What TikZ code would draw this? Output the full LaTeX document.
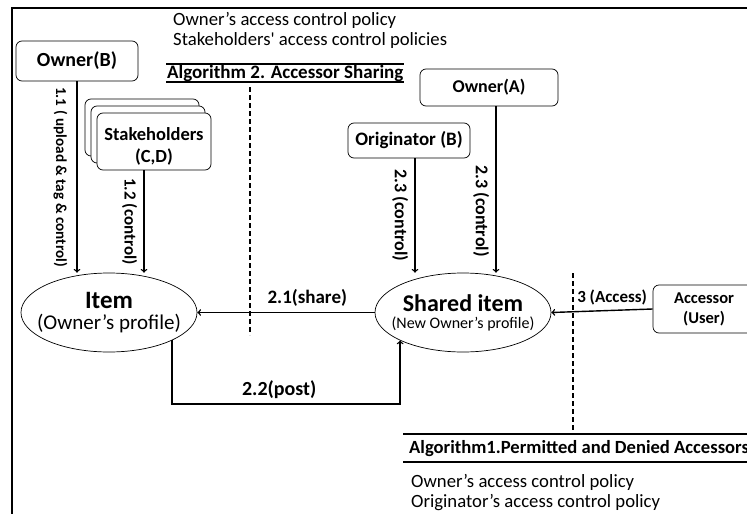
\documentclass[tikz,border=0pt]{standalone}
\usepackage{fontspec}
\setmainfont{Carlito}
\usetikzlibrary{arrows}
\usetikzlibrary{shapes.geometric}
\usetikzlibrary{calc}

\begin{document}
\begin{tikzpicture}[x=1pt, y=-1pt,
	party/.style={draw, line width=0.7pt, rounded corners=6pt, fill=white, align=center, inner sep=0pt, font=\bfseries\fontsize{18}{21}\selectfont},
	place/.style={draw, line width=0.7pt, ellipse, minimum width=176pt, minimum height=79pt, inner xsep=-12pt, inner ysep=-6pt, align=center},
	flow/.style={->, >=to, line width=1.4pt},
	sidelabel/.style={rotate=-90, anchor=north, inner sep=6pt, font=\bfseries\fontsize{18}{20}\selectfont},
	toplabel/.style={above, inner sep=5pt, font=\bfseries\fontsize{19}{21}\selectfont},
	policy/.style={anchor=west, inner sep=0pt, font=\fontsize{18.7}{22}\selectfont},
	border/.style={line width=1.8pt}]
		\useasboundingbox (0,0) rectangle (747,514);
		\clip (0,0) rectangle (747,514);
		% frame
		\draw[border] (12,514) -- (12,8) -- (747,8);
		% parties
		\node[party, minimum width=122pt, minimum height=40pt, font=\bfseries\fontsize{20}{23}\selectfont] (ownerB) at (77,61) {Owner(B)};
		\node[party, minimum width=114pt, minimum height=57pt] (stake3) at (142,127.5) {};
		\node[party, minimum width=114pt, minimum height=57pt] (stake2) at (148,134.5) {};
		\node[party, minimum width=114pt, minimum height=57pt, text height=45pt, font=\bfseries\fontsize{18.5}{22}\selectfont] (stake) at (154,141.5) {Stakeholders\\(C,D)};
		\node[party, minimum width=122pt, minimum height=35pt, font=\bfseries\fontsize{19}{22}\selectfont] (origB) at (409,140.5) {Originator (B)};
		\node[party, minimum width=138pt, minimum height=37pt] (ownerA) at (489,87.5) {Owner(A)};
		\node[party, minimum width=102pt, minimum height=48pt, font=\bfseries\fontsize{16.5}{20}\selectfont] (accessor) at (704,309) {Accessor\\(User)};
		% items
		\node[place] (item) at (109,312.5) {{\fontsize{25}{27}\selectfont\bfseries Item}\\[5pt]{\fontsize{21}{25}\selectfont (Owner’s profile)}};
		\node[place] (shared) at (463,312.5) {{\fontsize{24}{26}\selectfont\bfseries Shared item}\\[5pt]{\fontsize{16}{19}\selectfont (New Owner’s profile)}};
		% policies
		\node[policy] (polA1) at (173,20) {Owner’s access control policy};
		\node[policy] (polA2) at (173,41) {Stakeholders\textquotesingle{} access control policies};
		\node[policy, font=\bfseries\fontsize{19}{22}\selectfont] (algTwo) at (167,73) {Algorithm 2. Accessor Sharing};
		\node[policy, font=\bfseries\fontsize{18.6}{22}\selectfont] (algOne) at (409,449) {Algorithm1.Permitted and Denied Accessors};
		\node[policy] (polB1) at (411,482) {Owner’s access control policy};
		\node[policy] (polB2) at (411,503) {Originator’s access control policy};
		\draw[border] (166,64) -- (404,64);
		\draw[border] (166,82) -- (404,82);
		\draw[border] (403,434) -- (747,434);
		\draw[border] (403,462) -- (747,462);
		\draw[line width=1.5pt, dash pattern=on 5pt off 3pt] (250,87) -- (250,335);
		\draw[line width=1.5pt, dash pattern=on 5pt off 3pt] (573,273) -- (573,432);
		% connectors
		\draw[flow] (ownerB.south) -- node[midway, sidelabel, font=\bfseries\fontsize{15.2}{18}\selectfont, inner sep=9pt] {1.1 ( upload \& tag \& control)} (ownerB.south |- item.north);
		\draw[flow] ([xshift=-10pt]stake.south) -- node[midway, sidelabel, font=\bfseries\fontsize{17}{19}\selectfont] {1.2 (control)} ([xshift=-10pt]stake.south |- item.north);
		\draw[flow] ([xshift=6pt]origB.south) -- node[midway, sidelabel] {2.3 (control)} ([xshift=6pt]origB.south |- shared.north);
		\draw[flow] ([xshift=7pt]ownerA.south) -- node[pos=0.63, sidelabel] {2.3 (control)} ([xshift=7pt]ownerA.south |- shared.north);
		\draw[flow] (shared.west) -- node[pos=0.38, toplabel] {2.1(share)} (item.east);
		\draw[flow] (accessor.west) -- node[pos=0.4, toplabel, font=\bfseries\fontsize{17}{19}\selectfont] {3 (Access)} (shared.east);
		\coordinate (postturn) at (0,404);
		\draw[flow] (item.-24) |- node[pos=0.735, toplabel, font=\bfseries\fontsize{20}{22}\selectfont] {2.2(post)} (postturn -| shared.-156) -- (shared.-156);
	\end{tikzpicture}
\end{document}
